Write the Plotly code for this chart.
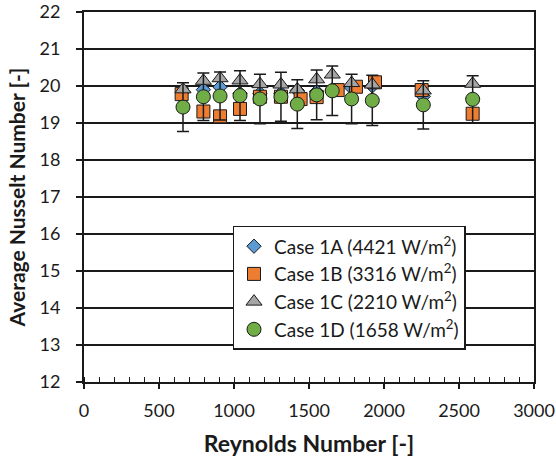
import plotly.graph_objects as go

# Reynolds numbers per series
re_a = [660, 796, 907, 1040, 1173, 1313, 1422, 1551, 1655, 1784, 1922, 2262, 2591]
re_b = [651, 796, 907, 1040, 1173, 1313, 1444, 1551, 1691, 1813, 1940, 2251, 2591]
re_c = [660, 796, 907, 1040, 1173, 1313, 1422, 1551, 1655, 1784, 1922, 2262, 2591]
re_d = [660, 796, 907, 1040, 1173, 1313, 1422, 1551, 1655, 1784, 1922, 2262, 2591]

# Average Nusselt numbers
nu_a = [19.85, 19.90, 19.97, 19.80, 19.80, 19.80, 19.88, 19.85, 19.90, 19.95, 20.00, 19.72, 19.66]
nu_b = [19.78, 19.31, 19.18, 19.38, 19.71, 19.71, 19.65, 19.70, 19.89, 19.98, 20.10, 19.89, 19.25]
nu_c = [19.91, 20.14, 20.21, 20.15, 20.05, 20.04, 19.91, 20.18, 20.31, 20.08, 20.04, 19.88, 20.06]
nu_d = [19.43, 19.71, 19.73, 19.74, 19.65, 19.71, 19.51, 19.76, 19.87, 19.65, 19.61, 19.49, 19.64]
err_d = [0.66, 0.64, 0.65, 0.67, 0.67, 0.66, 0.66, 0.67, 0.67, 0.67, 0.68, 0.65, 0.64]

names = ["Case 1A (4421 W/m<sup>2</sup>)", "Case 1B (3316 W/m<sup>2</sup>)",
         "Case 1C (2210 W/m<sup>2</sup>)", "Case 1D (1658 W/m<sup>2</sup>)"]

FONT = "Lato, 'Open Sans', sans-serif"
INK = "#1a1a1a"

fig = go.Figure()
fig.add_trace(go.Scatter(x=re_a, y=nu_a, mode="markers", name=names[0],
                         marker=dict(symbol="diamond", size=11, color="#5B9BD5",
                                     line=dict(color=INK, width=1))))
fig.add_trace(go.Scatter(x=re_b, y=nu_b, mode="markers", name=names[1],
                         marker=dict(symbol="square", size=13, color="#ED7D31",
                                     line=dict(color=INK, width=1))))
fig.add_trace(go.Scatter(x=re_c, y=nu_c, mode="markers", name=names[2],
                         marker=dict(symbol="triangle-up", size=14, color="#A5A5A5",
                                     line=dict(color=INK, width=1))))
fig.add_trace(go.Scatter(x=re_d, y=nu_d, mode="markers", name=names[3],
                         error_y=dict(type="data", array=err_d, visible=True,
                                      color=INK, thickness=1.5, width=6),
                         marker=dict(symbol="circle", size=14, color="#70AD47",
                                     line=dict(color=INK, width=1))))

fig.update_layout(
    width=556, height=463, autosize=False,
    margin=dict(l=84, r=22, t=12, b=81, pad=0),
    paper_bgcolor="white", plot_bgcolor="white",
    font=dict(family=FONT, size=18, color=INK),
    showlegend=True,
    legend=dict(x=0.33, y=0.422, xanchor="left", yanchor="top",
                bgcolor="white", bordercolor=INK, borderwidth=1.5,
                font=dict(family=FONT, size=19, color=INK),
                tracegroupgap=0),
)
fig.update_xaxes(
    range=[0, 3000], dtick=500, tick0=0, automargin=False,
    showgrid=False, zeroline=False,
    showline=True, linecolor=INK, linewidth=2, mirror=True,
    ticks="outside", ticklen=5, tickcolor=INK, tickwidth=1.5,
    ticklabelstandoff=6,
    minor=dict(dtick=100, ticks="inside", ticklen=5, tickcolor=INK, tickwidth=1),
    tickfont=dict(family=FONT, size=18),
    title=dict(text="<b>Reynolds Number [-]</b>", font=dict(family=FONT, size=23),
               standoff=16),
)
fig.update_yaxes(
    range=[12, 22], dtick=1, tick0=12, automargin=False,
    showgrid=True, gridcolor=INK, gridwidth=1.5, zeroline=False,
    showline=True, linecolor=INK, linewidth=2, mirror=True,
    ticks="outside", ticklen=6, tickcolor=INK, tickwidth=1.5,
    ticklabelstandoff=12,
    tickfont=dict(family=FONT, size=18),
    title=dict(text="<b>Average Nusselt Number [-]</b>", font=dict(family=FONT, size=21),
               standoff=8),
)

fig.write_html("out.html")
